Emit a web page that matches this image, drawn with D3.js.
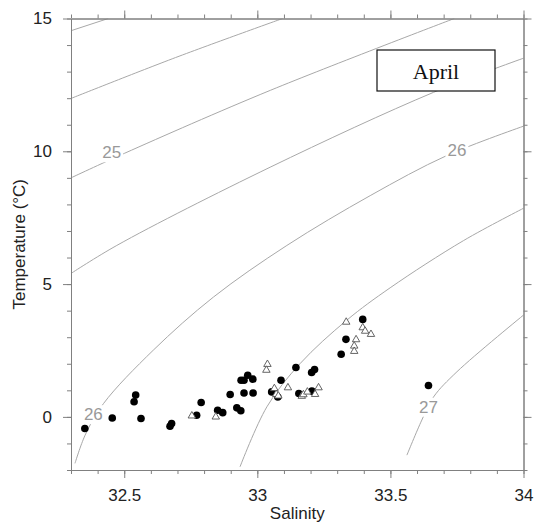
<!DOCTYPE html>
<html>
<head>
<meta charset="utf-8">
<script src="https://cdn.jsdelivr.net/npm/d3@7"></script>
<style>
  body { margin: 0; background: #fff; }
  svg { display: block; font-family: "Liberation Sans", Arial, sans-serif; }
</style>
</head>
<body>
<svg id="chart" width="545" height="524"></svg>
<script>
// Axis ticks
const xTicks = [32.5, 33, 33.5, 34];
const yTicks = [0, 5, 10, 15];

// Filled circles: [salinity, temperature]
const filledPoints = [
  [32.352, -0.44], [32.455, -0.04], [32.543, 0.82], [32.537, 0.57], [32.563, -0.06],
  [32.672, -0.35], [32.678, -0.25], [32.772, 0.06], [32.789, 0.54], [32.851, 0.25],
  [32.870, 0.16], [32.898, 0.84], [32.923, 0.34], [32.938, 0.23], [32.939, 1.38],
  [32.950, 1.38], [32.964, 1.57], [32.983, 1.42], [32.950, 0.90], [32.984, 0.90],
  [33.054, 0.94], [33.077, 0.75], [33.089, 1.38], [33.145, 1.86], [33.156, 0.88],
  [33.205, 0.97], [33.204, 1.67], [33.215, 1.78], [33.315, 2.36], [33.333, 2.92],
  [33.396, 3.67], [33.643, 1.18]
];

// Open triangles: [salinity, temperature]
const openPoints = [
  [32.754, 0.04], [32.844, 0.00], [33.038, 1.98], [33.034, 1.76], [33.064, 1.07],
  [33.071, 0.85], [33.079, 0.79], [33.115, 1.10], [33.167, 0.78], [33.173, 0.84],
  [33.188, 0.94], [33.217, 0.85], [33.230, 1.10], [33.334, 3.57], [33.396, 3.36],
  [33.405, 3.23], [33.427, 3.11], [33.371, 2.91], [33.364, 2.67], [33.364, 2.47]
];

// Isopycnal lines (sigma-t): [salinity, temperature]
const sigma240 = [[32.30, 14.54], [32.44, 15.0]];
const sigma245 = [[32.30, 11.99], [32.693, 13.53], [33.095, 15.0]];
const sigma250 = [[32.30, 9.0], [32.50, 9.92], [33.05, 12.3], [33.74, 15.0]];
const sigma255 = [[32.30, 5.40], [32.472, 6.455], [33.048, 9.40], [33.662, 12.22], [34.007, 13.53]];
const sigma260 = [[32.315, -1.75], [32.353, -0.69], [32.422, 0.50], [32.609, 2.51], [32.835, 4.51],
  [33.111, 6.455], [33.424, 8.33], [33.712, 9.84], [34.007, 10.97]];
const sigma265 = [[32.935, -1.88], [33.036, 0.38], [33.161, 2.01], [33.336, 3.64], [33.499, 4.86],
  [33.775, 6.64], [34.007, 7.89]];
const sigma270 = [[33.562, -1.44], [33.618, -0.12], [33.662, 0.75], [33.75, 1.7], [34.007, 3.89]];
const isopycnals = [sigma240, sigma245, sigma250, sigma255, sigma260, sigma265, sigma270];

// Contour labels: [text, salinity, temperature]
const contourLabels = [
  ['25', 32.453, 9.96],
  ['26', 33.75, 10.03],
  ['26', 32.384, 0.1],
  ['27', 33.643, 0.38]
];

const monthLabel = 'April';

const margin = { top: 18.5, right: 21.5, bottom: 54, left: 71 };
const width = 545 - margin.left - margin.right;
const height = 524 - margin.top - margin.bottom;

const svg = d3.select('#chart');
const g = svg.append('g').attr('transform', `translate(${margin.left},${margin.top})`);

const x = d3.scaleLinear().domain([32.3, 34]).range([0, width]);
const y = d3.scaleLinear().domain([-2, 15]).range([height, 0]);

const xMinor = d3.range(32.3, 34.001, 0.1).map((v) => +v.toFixed(1));
const yMinor = d3.range(-2, 15.001, 1);

// clip for contour lines
svg.append('defs').append('clipPath').attr('id', 'plot-clip')
  .append('rect').attr('width', width).attr('height', height);

// Isopycnals
const line = d3.line()
  .x((d) => x(d[0]))
  .y((d) => y(d[1]))
  .curve(d3.curveCatmullRom.alpha(0.5));

const contourG = g.append('g').attr('clip-path', 'url(#plot-clip)');
contourG.selectAll('path')
  .data(isopycnals)
  .enter()
  .append('path')
  .attr('fill', 'none')
  .attr('stroke', '#a8a8a8')
  .attr('stroke-width', 1)
  .attr('d', line);

// Contour labels with white backing
contourLabels.forEach(([txt, s, t]) => {
  const lg = contourG.append('g');
  const text = lg.append('text')
    .attr('x', x(s))
    .attr('y', y(t))
    .attr('dy', '0.35em')
    .attr('text-anchor', 'middle')
    .attr('font-size', 17)
    .attr('fill', '#999')
    .text(txt);
  const bb = text.node().getBBox();
  lg.insert('rect', 'text')
    .attr('x', bb.x - 2)
    .attr('y', bb.y)
    .attr('width', bb.width + 4)
    .attr('height', bb.height)
    .attr('fill', '#fff');
});

// Axes
function styleAxis(sel) {
  sel.select('.domain').attr('stroke', '#808080');
  sel.selectAll('.tick line').attr('stroke', '#808080');
  sel.selectAll('.tick text').attr('fill', '#222').attr('font-size', 17)
    .attr('font-family', '"Liberation Sans", Arial, sans-serif');
}

// bottom
g.append('g').attr('transform', `translate(0,${height})`)
  .call(d3.axisBottom(x).tickValues(xMinor).tickSize(4).tickSizeOuter(0).tickFormat(''))
  .call(styleAxis);
g.append('g').attr('transform', `translate(0,${height})`)
  .call(d3.axisBottom(x).tickValues(xTicks).tickSize(8).tickPadding(11).tickSizeOuter(0)
    .tickFormat((d) => d3.format('')(d)))
  .call(styleAxis);

// top
g.append('g')
  .call(d3.axisTop(x).tickValues(xMinor).tickSize(4).tickSizeOuter(0).tickFormat(''))
  .call(styleAxis);
g.append('g')
  .call(d3.axisTop(x).tickValues(xTicks).tickSize(8).tickSizeOuter(0).tickFormat(''))
  .call(styleAxis);

// left
g.append('g')
  .call(d3.axisLeft(y).tickValues(yMinor).tickSize(4).tickSizeOuter(0).tickFormat(''))
  .call(styleAxis);
g.append('g')
  .call(d3.axisLeft(y).tickValues(yTicks).tickSize(8).tickPadding(11).tickSizeOuter(0))
  .call(styleAxis);

// right
g.append('g').attr('transform', `translate(${width},0)`)
  .call(d3.axisRight(y).tickValues(yMinor).tickSize(4).tickSizeOuter(0).tickFormat(''))
  .call(styleAxis);
g.append('g').attr('transform', `translate(${width},0)`)
  .call(d3.axisRight(y).tickValues(yTicks).tickSize(8).tickSizeOuter(0).tickFormat(''))
  .call(styleAxis);

// Data points
g.append('g')
  .selectAll('circle')
  .data(filledPoints)
  .enter()
  .append('circle')
  .attr('cx', (d) => x(d[0]))
  .attr('cy', (d) => y(d[1]))
  .attr('r', 3.8)
  .attr('fill', '#000');

const tri = d3.symbol().type(d3.symbolTriangle).size(24);
g.append('g')
  .selectAll('path')
  .data(openPoints)
  .enter()
  .append('path')
  .attr('transform', (d) => `translate(${x(d[0])},${y(d[1])})`)
  .attr('d', tri)
  .attr('fill', '#fff')
  .attr('stroke', '#555')
  .attr('stroke-width', 0.9);

// Month box
const box = g.append('g').attr('transform', 'translate(306,31.5)');
box.append('rect')
  .attr('width', 118)
  .attr('height', 41)
  .attr('fill', '#fff')
  .attr('stroke', '#111')
  .attr('stroke-width', 1.2);
box.append('text')
  .attr('x', 59)
  .attr('y', 29)
  .attr('text-anchor', 'middle')
  .attr('font-family', '"Liberation Serif", "DejaVu Serif", serif')
  .attr('font-size', 22)
  .attr('fill', '#111')
  .text(monthLabel);

// Axis titles
svg.append('text')
  .attr('x', margin.left + width / 2)
  .attr('y', 519)
  .attr('text-anchor', 'middle')
  .attr('font-size', 17)
  .attr('fill', '#222')
  .text('Salinity');

svg.append('text')
  .attr('transform', `translate(25,${margin.top + height / 2}) rotate(-90)`)
  .attr('text-anchor', 'middle')
  .attr('font-size', 17)
  .attr('fill', '#222')
  .text('Temperature (°C)');
</script>
</body>
</html>
